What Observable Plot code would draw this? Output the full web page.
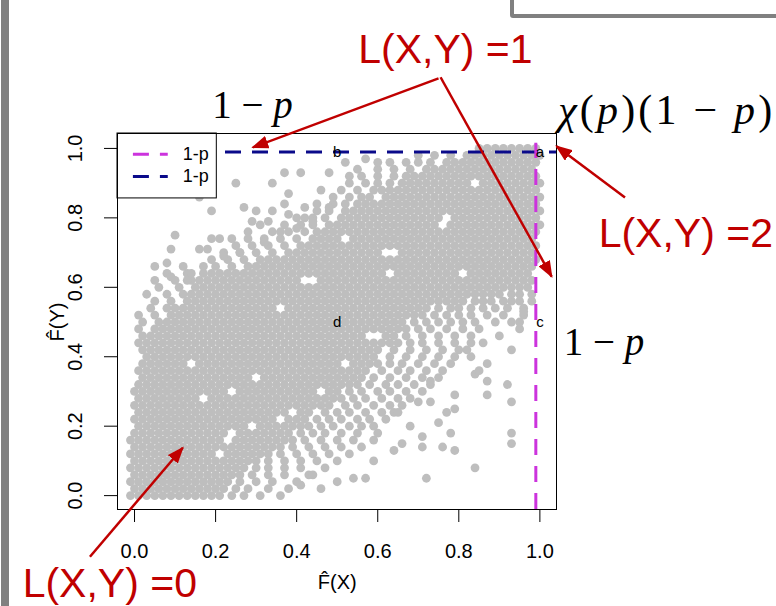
<!DOCTYPE html>
<html><head><meta charset="utf-8">
<script src="https://cdn.jsdelivr.net/npm/d3@7"></script>
<script src="https://cdn.jsdelivr.net/npm/@observablehq/plot@0.6"></script>
<style>
body{margin:0;background:#fff;width:776px;height:606px;overflow:hidden;position:relative;font-family:"Liberation Sans",Arial,sans-serif}
#chart{position:absolute;left:0;top:0}
.bar-left{position:absolute;left:1px;top:0;width:8px;height:606px;background:#808080}
.box-tr{position:absolute;left:510px;top:-10px;width:272px;height:20px;border:4px solid #808080;border-radius:3px;background:#fff}
</style></head><body>
<div id="chart"></div>
<div class="bar-left"></div><div class="box-tr"></div>
<script>
// ---- data (percent units) ----
// each row: [y, x, x, x, ...]
const cloudRows = [
[0, -1,1,3,5,7,9,11,13,15,17,19,21,24,27,31,36],
[2, 0,2,4,6,8,10,12,14,16,18,20,22,25,28,33,38,46],
[4, -1,1,3,5,7,9,11,13,15,17,19,21,23,26,30,34,40],
[6, 0,2,4,6,8,10,12,14,16,18,20,22,24,26,29,33,37,43],
[8, -1,1,3,5,7,9,11,13,15,17,19,21,23,25,27,30,33,37,41,47],
[10, 0,2,4,6,8,10,12,14,16,18,20,22,24,26,28,30,33,37,41,45],
[12, -1,1,3,5,7,9,11,13,15,17,19,23,25,27,29,31,33,36,40,44,48,53],
[14, 0,2,4,6,8,10,12,14,16,18,20,22,24,26,28,30,32,34,36,39,43,47,51,56],
[16, -1,1,3,5,7,9,11,13,15,17,19,21,25,27,29,31,33,35,37,39,42,46,50,54,59],
[18, 0,2,4,6,8,10,12,14,16,18,20,22,26,28,30,32,34,36,38,41,44,47,51,55,60],
[20, 1,3,5,7,9,11,13,15,17,19,21,23,25,27,31,33,35,37,39,41,43,46,49,53,56,59],
[22, 0,2,4,6,8,10,12,14,16,18,20,22,24,26,28,30,32,34,38,40,42,45,48,51,55,58,62],
[24, 1,3,5,7,9,11,13,15,17,19,21,23,25,27,29,31,33,35,37,41,43,47,50,53,57,61,64],
[26, 0,2,4,6,8,10,12,14,16,18,20,22,24,26,28,30,32,34,36,38,40,42,44,46,48,52,55,59,63,66],
[28, 1,3,5,7,9,11,13,15,19,21,23,25,27,29,31,33,35,37,39,41,43,45,47,49,51,54,57,61,65,68],
[30, 0,2,4,6,8,10,12,14,16,18,20,22,26,28,30,32,34,36,38,40,42,44,48,50,53,56,60,63,67,71],
[32, 1,3,5,7,9,11,13,15,17,19,21,23,25,27,29,31,33,35,37,39,41,43,45,47,49,51,53,55,58,62,65,69,73],
[34, 2,4,6,8,10,12,14,16,18,20,22,24,26,28,32,34,36,38,40,42,44,46,48,50,52,54,56,59,63,67,71,75],
[36, 1,3,5,7,9,11,13,15,17,19,21,23,25,27,29,31,33,35,37,39,41,43,45,47,49,51,53,55,57,61,65,68,72,76],
[38, 2,4,6,8,10,12,16,18,20,22,24,26,28,30,32,34,36,38,40,42,44,46,48,50,54,56,58,60,63,66,70,74,78],
[40, 3,5,7,9,11,13,15,17,19,21,23,25,27,29,31,33,35,37,39,41,43,45,47,49,51,53,55,57,59,63,67,71,75,79],
[42, 2,4,6,8,10,12,14,16,18,20,22,24,26,28,30,32,34,36,38,40,42,44,46,48,50,52,54,56,58,60,64,68,72,76,80],
[44, 1,3,5,7,9,11,13,15,17,19,21,23,25,27,29,31,33,35,37,39,41,43,45,47,49,51,53,55,57,59,61,63,65,68,71,75,79,83],
[46, 2,4,6,8,10,12,14,16,18,20,22,24,26,28,30,32,34,36,38,40,42,44,46,48,50,52,54,56,62,64,67,71,75,79,83],
[48, 1,5,7,9,11,13,15,17,19,21,23,25,27,29,31,33,35,37,39,41,43,45,47,49,51,53,55,57,59,61,63,65,67,70,73,77,81,85],
[50, 2,6,8,10,12,14,16,18,20,22,24,26,28,30,32,34,36,38,40,42,44,46,48,50,52,54,56,58,60,62,64,66,69,72,75,78,81,84,89,93],
[52, 1,5,9,11,13,15,17,19,21,23,25,27,29,31,33,35,37,39,41,43,45,47,49,51,53,55,57,59,61,63,65,67,69,71,74,77,80,83,87,91,96],
[54, 4,8,10,12,14,16,18,20,22,24,26,28,30,32,34,38,40,42,44,46,48,50,52,54,56,58,60,62,64,66,68,70,72,75,78,80,83,86,89,92,96],
[56, 5,9,13,15,17,19,21,23,25,27,29,31,33,35,37,39,41,43,45,47,49,51,53,55,57,59,61,63,65,67,69,71,73,75,77,79,81,84,86,88,91,93,95,98],
[58, 8,12,14,16,18,20,22,24,26,28,30,32,34,36,38,40,42,44,46,48,50,52,54,56,58,60,62,64,66,68,70,72,74,76,78,80,82,84,86,88,90,93,95,98],
[60, 6,11,15,17,19,21,23,25,27,29,31,33,35,37,39,41,43,45,47,49,51,53,55,57,59,61,63,65,67,69,71,73,75,77,79,81,83,85,87,89,91,93,95,97],
[62, 5,10,14,16,18,20,22,24,26,28,30,32,34,36,38,40,46,48,50,52,54,56,58,60,62,64,66,68,70,72,74,76,78,80,82,84,86,88,90,92,94,96,98],
[64, 8,13,17,19,21,23,25,27,29,31,33,35,37,39,41,43,45,47,49,51,53,55,57,59,61,65,67,69,71,73,75,77,79,83,85,87,89,91,93,95,97],
[66, 20,24,28,30,32,34,36,38,40,42,44,46,48,50,52,54,56,58,60,62,64,66,68,70,72,74,76,78,80,82,84,86,88,90,92,94,96,98],
[68, 19,23,27,31,33,35,37,39,41,43,45,47,49,51,53,55,57,59,61,63,65,67,69,71,73,75,77,79,81,83,85,87,89,91,93,95,97,99],
[70, 22,26,30,34,38,40,42,44,46,48,50,52,54,56,58,60,66,68,70,72,74,76,78,80,82,84,86,88,90,92,94,96,98],
[72, 25,29,33,37,41,43,45,47,49,51,53,55,57,59,61,63,65,67,69,71,73,75,77,79,81,83,85,87,89,91,93,95,97,99],
[74, 28,32,36,40,44,46,48,50,54,56,58,60,62,64,66,68,70,72,74,76,78,80,82,84,86,88,90,92,94,96,98],
[76, 34,38,42,45,47,49,51,53,55,57,59,61,63,65,67,69,71,73,75,77,79,81,83,85,87,89,91,93,95,97,99],
[78, 37,41,44,48,50,52,54,56,58,60,62,64,66,68,70,72,74,78,80,82,84,86,88,90,92,94,96,98,100],
[80, 40,44,47,51,53,55,57,59,61,63,65,67,69,71,73,75,79,81,83,85,87,89,91,93,95,97,99],
[82, 45,48,52,54,56,58,60,62,64,66,68,70,72,74,76,78,80,82,84,86,88,90,92,94,96,98,100],
[84, 49,52,55,57,59,61,63,65,67,69,71,73,75,77,79,81,83,85,87,89,91,93,95,97,99],
[86, 49,53,56,58,62,64,66,68,70,72,74,76,78,80,82,84,86,88,90,92,94,96,98,100],
[88, 51,55,59,61,63,65,67,69,71,73,75,77,79,81,83,85,87,89,91,93,95,97,99],
[90, 53,57,60,63,66,68,70,72,74,76,78,80,82,86,88,90,92,94,96,98,100],
[92, 56,60,64,67,69,71,73,75,77,79,81,83,85,87,89,91,93,95,97,99],
[94, 55,60,64,68,72,74,76,78,80,82,84,86,88,90,92,94,96,98],
[96, 63,67,70,73,77,79,81,83,85,87,89,91,93,95,97,99],
[98, 70,74,78,82,84,86,88,90,92,94,96,98,100],
[100, 85,87,89,91,93,95,97,99]
];
// scattered points outside the dense cloud: [x, y]
const scatterPoints = [
[5,66],[8,67],[9,71],[10,75],[12,66],[14,64],[17,66],[16,71],[18,71],[19,74],[21,74],[24,74],
[19,82],[16,86],[25,90],[27,83],[30,82],[29,79],[31,78],[33,79],[34,82],[34,90],[37,93],[41,93],
[38,87],[37,84],[42,83],[48,93],[46,88],[45,84],[48,83],[28,76],[32,73],[36,76],[40,77],[44,79],
[38,81],[42,80],[26,70],[22,69],[13,62],[9,63],[3,58],[52,96],[57,97],[60,96],[53,92],
[50,4],[54,5],[57,5],[50,10],[59,10],[64,13],[66,15],[71,17],[71,14],[76,14],[78,18],[79,13],
[72,5],[84,8],[93,18],[93,15],[93,27],[92,32],[87,33],[87,29],[87,38],[93,42],[90,46],[95,48],
[75,21],[77,24],[79,25],[79,29],[73,27],[68,20],[65,24],[70,27],[73,33],[84,35],[82,42],[86,44],
[95,50],[96,53],[44,6],[41,3],[83,40],[85,36]
];
const xTicks = [0, 0.2, 0.4, 0.6, 0.8, 1.0];
const yTicks = [0, 0.2, 0.4, 0.6, 0.8, 1.0];
const p = 0.01;
const threshold = 1 - p;
const cornerLetters = [
  {label: "a", x: 1.0, y: 0.99},
  {label: "b", x: 0.5, y: 0.99},
  {label: "c", x: 1.0, y: 0.5},
  {label: "d", x: 0.5, y: 0.5}
];
const legendLabels = ["1-p", "1-p"];
const levelLabels = ["L(X,Y) =1", "L(X,Y) =2", "L(X,Y) =0"];
const mathTexts = ["1 − p", "χ(p)(1 − p)", "1 − p"];

// ---- layout ----
const RED = "#c00000", MAGENTA = "#cc33dd", NAVY = "#0a0a8a", GRAY = "#bebebe";
const xDomain = [-0.042, 1.041], yDomain = [-0.04, 1.043];

const points = [];
for (const [y, ...xs] of cloudRows) for (const x of xs) points.push({x: x / 100, y: y / 100});
for (const [x, y] of scatterPoints) points.push({x: x / 100, y: y / 100});

const legend = [
  {label: legendLabels[0], color: MAGENTA, y: 0.983},
  {label: legendLabels[1], color: NAVY, y: 0.919}
];
const levelAnn = [
  {text: levelLabels[0], x: 0.767, y: 1.285},
  {text: levelLabels[1], x: 1.36, y: 0.755},
  {text: levelLabels[2], x: -0.061, y: -0.253}
];
const mathAnn = [
  {text: mathTexts[0], x: 0.291, y: 1.125, size: 39, w: null},
  {text: mathTexts[1], x: 1.309, y: 1.108, size: 42, w: 214},
  {text: mathTexts[2], x: 1.158, y: 0.441, size: 39, w: null}
];
const arrows = [
  {x1: 0.75, y1: 1.202, x2: 0.292, y2: 1.003},
  {x1: 0.755, y1: 1.205, x2: 1.029, y2: 0.631},
  {x1: 1.21, y1: 0.859, x2: 1.041, y2: 1.006},
  {x1: -0.11, y1: -0.176, x2: 0.119, y2: 0.138}
];
const fmt = d3.format(".1f");

const svg = Plot.plot({
  width: 776, height: 606,
  marginLeft: 117, marginRight: 220, marginTop: 133, marginBottom: 97,
  x: {domain: xDomain}, y: {domain: yDomain},
  style: {fontFamily: "'Liberation Sans', Arial, sans-serif", background: "transparent", overflow: "visible"},
  marks: [
    Plot.dot(points, {x: "x", y: "y", r: 4.4, fill: GRAY}),
    Plot.ruleY([threshold], {x1: xDomain[0], x2: xDomain[1], stroke: NAVY, strokeWidth: 3, strokeDasharray: "16,11"}),
    Plot.ruleX([threshold], {y1: yDomain[0], y2: 1.015, stroke: MAGENTA, strokeWidth: 3, strokeDasharray: "16,11"}),
    Plot.text(cornerLetters, {x: "x", y: "y", text: "label", fontSize: 15, fill: "black"}),
    // legend
    Plot.rect([0], {x1: xDomain[0], x2: 0.203, y1: 0.856, y2: yDomain[1], fill: "white", stroke: "black"}),
    Plot.link(legend, {x1: -0.004, x2: 0.082, y1: "y", y2: "y", stroke: "color", strokeWidth: 3, strokeDasharray: "16,11"}),
    Plot.text(legend, {x: 0.119, y: "y", text: "label", textAnchor: "start", fontSize: 18, fill: "black"}),
    Plot.frame({stroke: "black"}),
    Plot.axisX(xTicks, {tickSize: 13, tickPadding: 21, tickFormat: fmt, fontSize: 20, label: null}),
    Plot.axisY(yTicks, {tickSize: 13, tickFormat: () => "", label: null}),
    Plot.text(yTicks, {x: -0.145, y: d => d, text: fmt, rotate: -90, fontSize: 20, fill: "black"}),
    Plot.text(["F\u0302(X)"], {x: 0.5, y: -0.251, text: d => d, fontSize: 20, fill: "black"}),
    Plot.text(["F\u0302(Y)"], {x: -0.19, y: 0.5, text: d => d, rotate: -90, fontSize: 20, fill: "black"}),
    // annotations
    Plot.text(levelAnn, {x: "x", y: "y", text: "text", fontSize: 41, fill: RED}),
    Plot.text(mathAnn, {x: "x", y: "y", text: "text", fontSize: "size", fill: "black", fillOpacity: 0.999,
      fontFamily: "'Liberation Serif', 'DejaVu Serif', serif"}),
    Plot.link(arrows, {x1: "x1", y1: "y1", x2: "x2", y2: "y2", stroke: RED, strokeWidth: 2.5, strokeOpacity: 0.999})
  ]
});

// arrow heads (filled triangles)
const s = d3.select(svg);
const defs = s.append("defs");
defs.append("marker").attr("id", "redTri").attr("viewBox", "0 0 10 10")
  .attr("refX", 9).attr("refY", 5).attr("markerUnits", "userSpaceOnUse")
  .attr("markerWidth", 17).attr("markerHeight", 13).attr("preserveAspectRatio", "none")
  .attr("orient", "auto")
  .append("path").attr("d", "M0,0L10,5L0,10Z").attr("fill", RED);
s.selectAll('g[stroke-opacity="0.999"] path').attr("marker-end", "url(#redTri)");

// math labels: italic variables, fitted width where needed
s.selectAll('g[fill-opacity="0.999"] text').each(function(d, i) {
  const t = this.textContent;
  this.innerHTML = t.replace(/([pχ])/g, '<tspan font-style="italic">$1</tspan>');
  if (mathAnn[i].w) {
    this.setAttribute("textLength", mathAnn[i].w);
    this.setAttribute("lengthAdjust", "spacing");
  }
});

document.getElementById("chart").appendChild(svg);
</script></body></html>
